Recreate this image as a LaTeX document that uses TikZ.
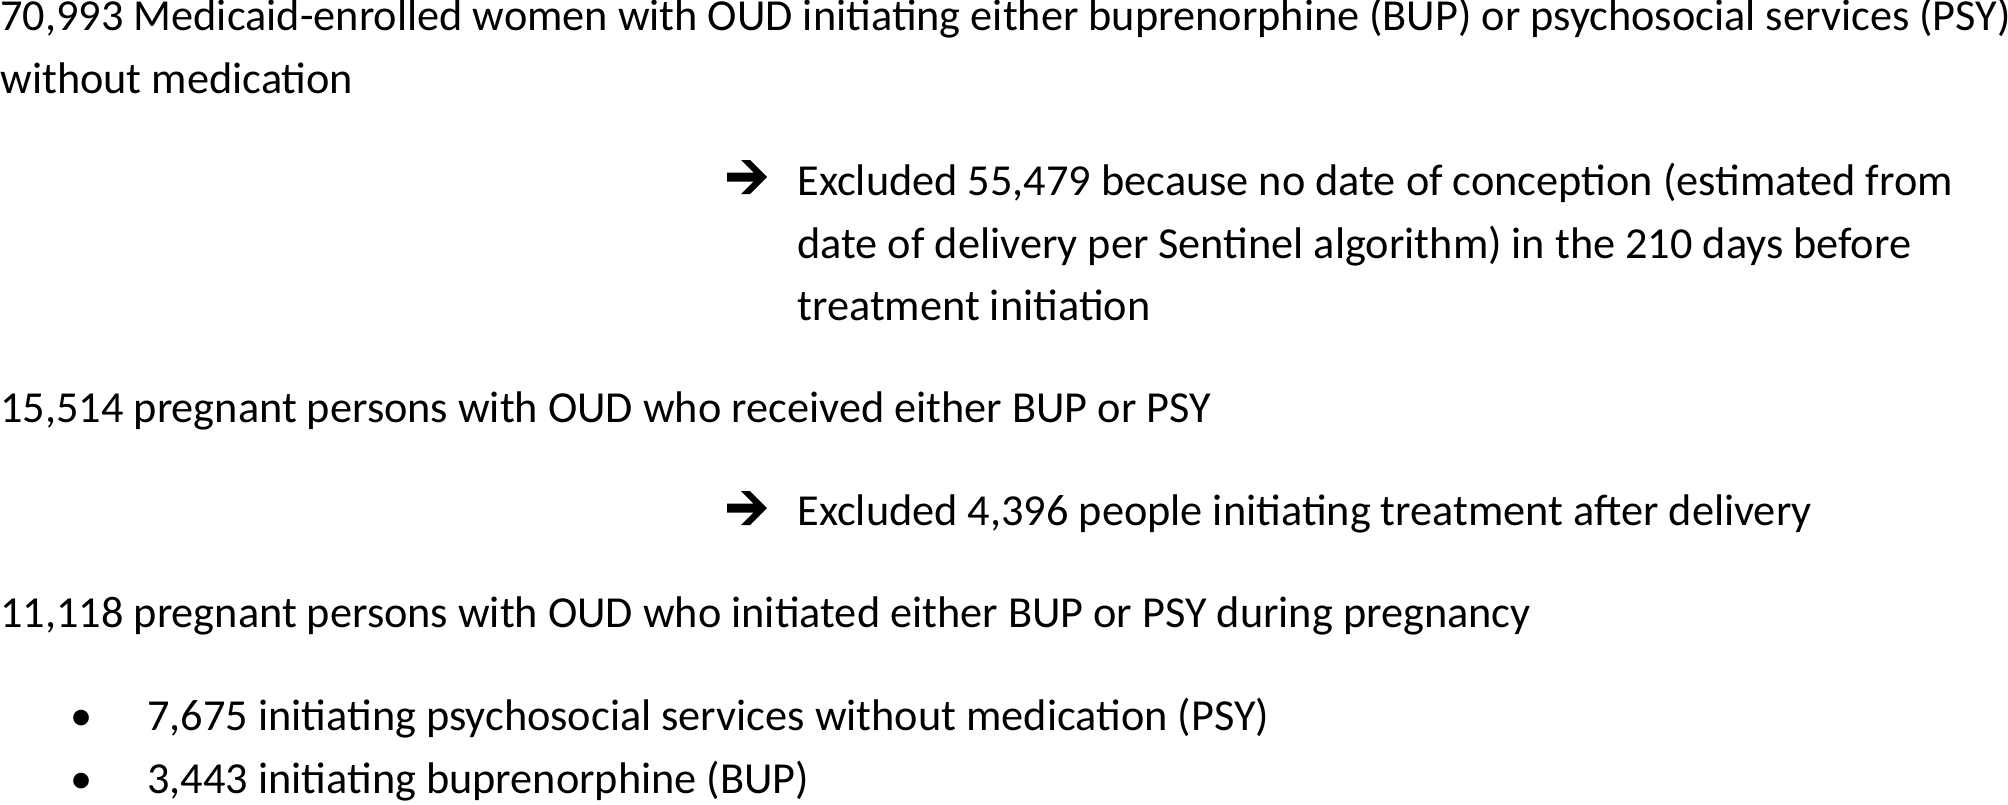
\documentclass[tikz,border=0pt]{standalone}
\usepackage{fontspec}
\setmainfont{Carlito}
\usetikzlibrary{positioning}

\tikzset{
  line/.style={anchor=base west, inner sep=0pt, font=\fontsize{22.15pt}{26pt}\selectfont},
  dot/.style={anchor=base west, inner sep=0pt, font=\fontsize{22.15pt}{26pt}\selectfont},
  excl/.style={fill=black}
}

\begin{document}
\begin{tikzpicture}[x=0.5pt, y=-0.5pt]
\useasboundingbox (0,0) rectangle (2008,804);

% cohort
\node[line](n1a) at (0, 30) {70,993 Medicaid-enrolled women with OUD initiating either buprenorphine (BUP) or psychosocial services (PSY)};
\node[line](n1b) at (0, 93) {without medication};

% first exclusion
\fill[excl, shift={(727,177)}] (0,-4.5) -- (26.5,-4.5) -- (14,-17) -- (23,-17) -- (40,0) -- (23,17) -- (14,17) -- (26.5,4.5) -- (0,4.5) -- cycle;
\node[line](e1a) at (797, 195) {Excluded 55,479 because no date of conception (estimated from};
\node[line](e1b) at (797, 258) {date of delivery per Sentinel algorithm) in the 210 days before};
\node[line](e1c) at (797, 320) {treatment initiation};

\node[line](n2) at (0, 422) {15,514 pregnant persons with OUD who received either BUP or PSY};

% second exclusion
\fill[excl, shift={(727,508)}] (0,-4.5) -- (26.5,-4.5) -- (14,-17) -- (23,-17) -- (40,0) -- (23,17) -- (14,17) -- (26.5,4.5) -- (0,4.5) -- cycle;
\node[line](e2) at (797, 525) {Excluded 4,396 people initiating treatment after delivery};

\node[line](n3) at (0, 627) {11,118 pregnant persons with OUD who initiated either BUP or PSY during pregnancy};

% groups
\node[dot](b1) at (70, 730) {•};
\node[line](g1) at (147, 730) {7,675 initiating psychosocial services without medication (PSY)};
\node[dot](b2) at (70, 793) {•};
\node[line](g2) at (147, 793) {3,443 initiating buprenorphine (BUP)};
\end{tikzpicture}
\end{document}
